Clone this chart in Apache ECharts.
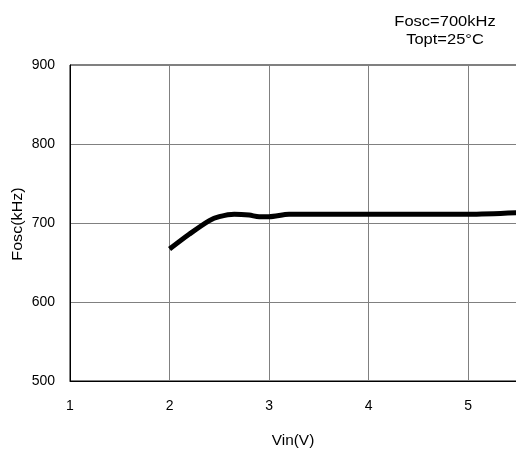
<!DOCTYPE html>
<html><head><meta charset="utf-8">
<script src="https://cdn.jsdelivr.net/npm/echarts@6/dist/echarts.min.js"></script>
<style>html,body{margin:0;padding:0;background:#fff}#c{width:516px;height:452px}</style>
</head><body><div id="c"></div>
<script>
const vin = [2.0, 2.2, 2.4, 2.5, 2.65, 2.8, 2.9, 3.0, 3.2, 3.5, 4.0, 4.5, 5.0, 5.5];
const fosc = [667, 686, 703, 708, 711, 710, 708, 708, 711, 711, 711, 711, 711, 713];
const xTicks = [1, 2, 3, 4, 5];
const yTicks = [500, 600, 700, 800, 900];
const font = 'Liberation Sans, Arial, sans-serif';
const chart = echarts.init(document.getElementById('c'), null, {renderer: 'canvas'});
chart.setOption({
  animation: false,
  backgroundColor: '#fff',
  grid: {left: 70, top: 65, width: 448, height: 316, containLabel: false, outerBoundsMode: 'none',
         show: true, borderColor: '#000', borderWidth: 1},
  xAxis: {type: 'value', min: 1, max: 5.5, interval: 1,
    axisLine: {show: true, lineStyle: {color: '#000', width: 1}},
    axisTick: {show: false},
    splitLine: {show: true, lineStyle: {color: '#808080', width: 1}},
    axisLabel: {color: '#000', fontSize: 14, fontFamily: font, margin: 18, showMaxLabel: false,
      formatter: v => xTicks.includes(v) ? String(v) : ''}},
  yAxis: {type: 'value', min: 500, max: 900, interval: 100,
    axisLine: {show: true, lineStyle: {color: '#000', width: 1}},
    axisTick: {show: false},
    splitLine: {show: true, lineStyle: {color: '#808080', width: 1}},
    axisLabel: {color: '#000', fontSize: 14, fontFamily: font, margin: 15,
      formatter: v => yTicks.includes(v) ? String(v) : ''}},
  graphic: [
    {type: 'text', x: 445, y: 22, scaleX: 1.1, style: {text: 'Fosc=700kHz', fill: '#000', font: '15px ' + font, align: 'center', verticalAlign: 'middle'}},
    {type: 'text', x: 445, y: 40, scaleX: 1.1, style: {text: 'Topt=25°C', fill: '#000', font: '15px ' + font, align: 'center', verticalAlign: 'middle'}},
    {type: 'text', x: 293, y: 441, scaleX: 1.1, style: {text: 'Vin(V)', fill: '#000', font: '14px ' + font, align: 'center', verticalAlign: 'middle'}},
    {type: 'text', x: 18, y: 224, rotation: Math.PI/2, scaleX: 1.15, style: {text: 'Fosc(kHz)', fill: '#000', font: '14px ' + font, align: 'center', verticalAlign: 'middle'}}
  ],
  series: [{type: 'line', data: vin.map((x, i) => [x, fosc[i]]), smooth: 0.3, showSymbol: false,
    lineStyle: {color: '#000', width: 5}, clip: true}]
});
</script></body></html>
